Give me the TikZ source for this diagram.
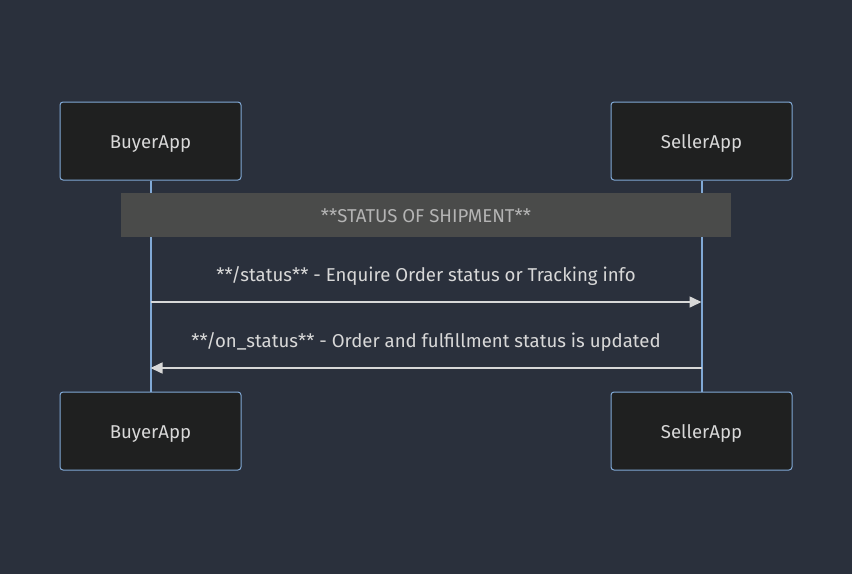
\documentclass[tikz,border=0pt]{standalone}
\usepackage{fontspec}
\setmainfont{Fira Sans}
\usepackage{xcolor}
\usepackage{tikz}
\usetikzlibrary{arrows.meta}
\usetikzlibrary{calc}
\definecolor{bgcolor}{HTML}{2A303C}
\definecolor{actorfill}{HTML}{1F2020}
\definecolor{lifeblue}{HTML}{81A9D6}
\definecolor{notefill}{HTML}{4A4B4A}
\definecolor{notetext}{HTML}{B4B4B4}
\definecolor{msgcolor}{HTML}{D8D8D8}
\newcommand\txt{\fontsize{18.6}{22}\selectfont}
\tikzstyle{actor}=[draw=lifeblue,fill=actorfill,line width=1pt,rounded corners=3pt,
  minimum width=181pt,minimum height=78pt,text=msgcolor,font=\txt,
  text height=15pt,text depth=1pt]
\tikzstyle{lifeline}=[draw=lifeblue,line width=2pt]
\tikzstyle{notebox}=[fill=notefill,minimum width=610pt,minimum height=44pt,text=notetext,font=\txt,
  text height=15pt,text depth=0pt]
\tikzstyle{msg}=[draw=msgcolor,line width=1.6pt,-{Triangle[length=12pt,width=11pt]}]
\tikzstyle{msglabel}=[text=msgcolor,font=\txt]
\begin{document}
\begin{tikzpicture}[x=1pt,y=-1pt]
	\fill[bgcolor] (0,0) rectangle (852,574);
	\useasboundingbox (0,0) rectangle (852,574);
	% actors
	\node[actor] (buyerTop)  at (150.5,141) {BuyerApp};
	\node[actor] (sellerTop) at (701.5,141) {SellerApp};
	\node[actor] (buyerBot)  at (150.5,431) {BuyerApp};
	\node[actor] (sellerBot) at (701.5,431) {SellerApp};
	% lifelines
	\draw[lifeline] (buyerTop.south) -- (buyerBot.north);
	\draw[lifeline] (sellerTop.south) -- (sellerBot.north);
	% note
	\node[notebox] (shipNote) at (426,215) {**STATUS OF SHIPMENT**};
	% messages
	\coordinate (buyerA)  at (buyerTop.south |- 0,302);
	\coordinate (sellerA) at (sellerTop.south |- 0,302);
	\coordinate (buyerB)  at (buyerTop.south |- 0,368);
	\coordinate (sellerB) at (sellerTop.south |- 0,368);
	\draw[msg] (buyerA) -- node[msglabel,above=12pt] (statusLbl) {**/status** - Enquire Order status or Tracking info} (sellerA);
	\draw[msg] (sellerB) -- node[msglabel,above=12pt] (onStatusLbl) {**/on\_status** - Order and fulfillment status is updated} (buyerB);
\end{tikzpicture}
\end{document}
